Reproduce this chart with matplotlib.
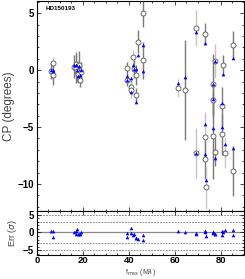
import numpy as np
import matplotlib
matplotlib.use('Agg')
import matplotlib.pyplot as plt
from matplotlib.ticker import MultipleLocator

# baseline (M lambda), observed closure phase, error, model closure phase, residual (sigma)
f_max = [6.2, 6.8, 6.9,
         16.3, 16.8, 17.2, 17.5, 17.8, 18.2, 18.6, 19.0,
         39.2, 39.4, 40.9, 41.1, 42.0, 42.3, 43.0, 43.2, 44.1, 46.2, 46.3,
         61.3, 64.4, 69.5, 69.5, 73.1, 73.0, 73.0, 73.8, 76.6, 76.6, 76.6,
         77.4, 77.5, 80.9, 80.6, 80.6, 82.1, 85.2, 85.2]
cp_obs = [-0.1, 0.67, -0.43,
          0.3, 0.55, 0.2, -0.1, -0.35, 0.45, -0.85, -0.2,
          0.15, -0.85, -1.5, -1.74, 1.16, 0.12, -2.17, -0.43, 2.52, 5.07, 0.87,
          -1.54, -1.74, 3.71, -7.25, 3.19, -5.9, -7.85, -10.3, -1.25, -2.6, -5.8,
          0.81, -7.19, 0.43, -3.19, -5.62, -7.28, 2.23, -8.87]
cp_err = [0.7, 0.5, 0.9,
          1.0, 1.1, 1.3, 0.9, 0.8, 1.2, 0.6, 0.9,
          0.6, 0.5, 0.6, 0.7, 0.6, 0.8, 0.6, 0.9, 1.0, 1.3, 1.6,
          0.8, 4.4, 1.55, 2.2, 1.0, 2.2, 1.7, 1.9, 2.7, 1.5, 3.8,
          1.5, 1.2, 0.9, 1.7, 1.8, 1.3, 1.2, 2.2]
cp_mod = [0.0, 0.0, -0.05,
          0.5, 0.5, 0.45, 0.0, -0.5, 0.4, -0.45, 0.0,
          -0.52, -0.87, -0.72, -1.9, 0.43, 0.14, -2.78, 0.09, 1.3, 2.26, -0.09,
          -1.16, -0.64, 3.39, -7.25, 2.41, -4.7, -7.4, -9.65, -1.2, -2.55, -5.07,
          0.78, -7.74, -0.29, -2.84, -4.98, -6.47, 1.1, -6.84]
resid = [0.37, -1.3, 0.3,
         0.1, -0.3, 0.55, 1.0, -0.3, -0.55, -0.55, 0.2,
         -0.1, -1.2, 1.3, -0.1, -0.8, -0.3, -1.5, -1.5, -1.7, -0.75, -2.2,
         0.37, 0.1, -0.3, -0.2, 0.55, 0.1, 0.3, -1.0, 0.1, -0.1, 0.0,
         -0.55, -0.4, 0.2, -0.8, 0.55, 0.6, 0.8, -0.75]

star = 'HD150193'

# error bars drawn in light grey
light = {1, 4, 7, 14, 15, 22, 24, 25, 27, 29, 33, 38}

plt.rcParams['font.family'] = ['Liberation Sans', 'DejaVu Sans']

fig = plt.figure(figsize=(2.45, 2.79), dpi=100)
ax1 = fig.add_axes([0.151, 0.245, 0.843, 0.752])
ax2 = fig.add_axes([0.151, 0.086, 0.843, 0.159], sharex=ax1)

for i in range(len(f_max)):
    col = '#c4c4c4' if i in light else '#7a7a7a'
    ax1.errorbar(f_max[i], cp_obs[i], yerr=cp_err[i], fmt='none', ecolor=col,
                 elinewidth=1.0, capsize=0, zorder=1)
ax1.plot(f_max, cp_mod, '^', color='#0000ff', ms=2.6, mew=0, zorder=3)
ax1.plot(f_max, cp_obs, 'o', mfc='white', mec='#555555', ms=3.6, mew=0.6, zorder=2)

ax1.text(0.04, 0.975, star, transform=ax1.transAxes, fontsize=4.5,
         fontweight='bold', va='top')

ax2.axhline(0, color='#888888', lw=0.9, zorder=0)
for h in [-5, -3, 3, 5]:
    ax2.axhline(h, color='#777777', lw=0.6, ls=(0, (2, 1.5)), zorder=0)
ax2.plot(f_max, resid, '^', color='#0000ff', ms=2.6, mew=0)

ax1.set_xlim(0, 90)
ax1.set_ylim(-12.35, 6.1)
ax2.set_ylim(-6.3, 6.1)

for ax in (ax1, ax2):
    ax.tick_params(which='both', direction='in', top=True, right=True,
                   labelsize=7, width=0.5, pad=2)
    ax.tick_params(which='major', length=3)
    ax.tick_params(which='minor', length=1.5)
    for s in ax.spines.values():
        s.set_linewidth(0.8)
ax2.tick_params(axis='x', pad=1, labelsize=6.8)

ax1.yaxis.set_major_locator(MultipleLocator(5))
ax1.yaxis.set_minor_locator(MultipleLocator(1))
ax1.xaxis.set_major_locator(MultipleLocator(20))
ax1.xaxis.set_minor_locator(MultipleLocator(5))
ax2.yaxis.set_major_locator(MultipleLocator(5))
ax2.yaxis.set_minor_locator(MultipleLocator(1))
plt.setp(ax1.get_xticklabels(), visible=False)
for lab in ax1.get_yticklabels() + ax2.get_yticklabels() + ax2.get_xticklabels():
    lab.set_fontweight('bold')

ax1.set_ylabel('CP (degrees)', fontsize=8.5, color='#444444', labelpad=2)
ax2.set_ylabel('Err ($\\sigma$)', fontsize=6.5, color='#444444', labelpad=3)
fig.text(0.151 + 0.843 * 0.5, 0.004, 'f$_{\\rm max}$ (M$\\lambda$)', fontsize=5,
         color='#444444', ha='center', va='bottom')

fig.savefig('out.png', dpi=100)
